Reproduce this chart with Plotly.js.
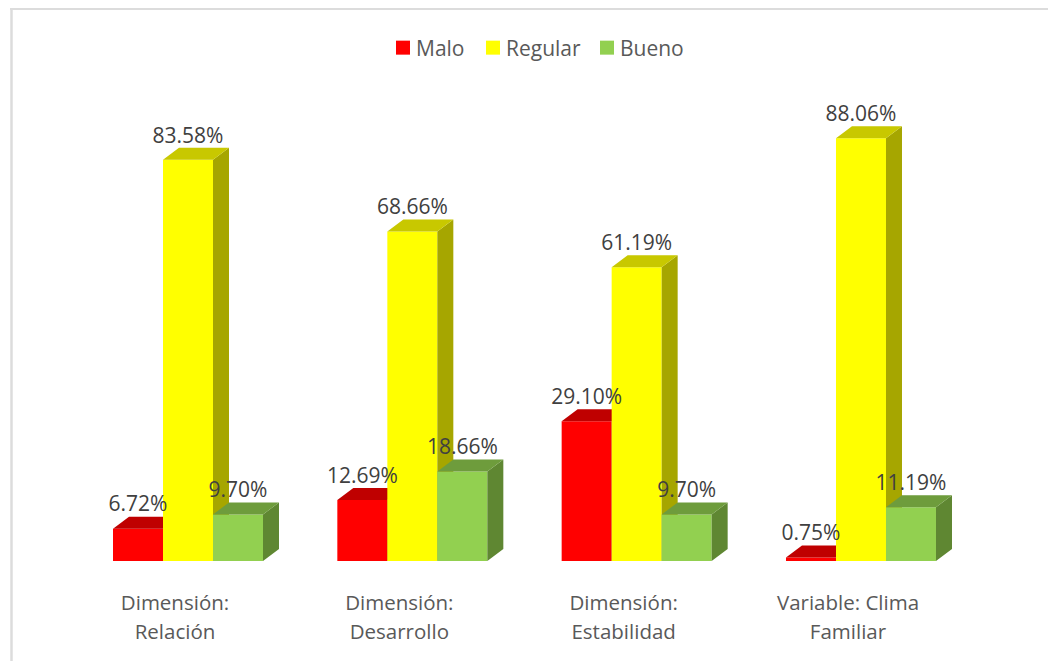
<!DOCTYPE html>
<html>
<head>
<meta charset="utf-8">
<script src="https://cdn.plot.ly/plotly-3.0.1.min.js"></script>
<style>html,body{margin:0;padding:0;background:#fff;}</style>
</head>
<body>
<div id="chart" style="width:1048px;height:661px;"></div>
<script>
const categories = ["Dimensión:<br>Relación", "Dimensión:<br>Desarrollo", "Dimensión:<br>Estabilidad", "Variable: Clima<br>Familiar"];
const malo = [6.72, 12.69, 29.10, 0.75];
const regular = [83.58, 68.66, 61.19, 88.06];
const bueno = [9.70, 18.66, 9.70, 11.19];
const seriesNames = ["Malo", "Regular", "Bueno"];
const frontColors = ["#ff0000", "#ffff00", "#92d050"];
const topColors = ["#bf0000", "#c8c800", "#6e9c3c"];
const sideColors = ["#a00000", "#a6a600", "#5f8732"];

const seriesValues = [malo, regular, bueno];
const groupPx = 224.33, pxPerPct = 4.8;
const plotL = 20, plotR = 1030, plotT = 60, plotB = 561, groupZeroPx = 188;
const barW = 50 / groupPx, depthX = 16 / groupPx, depthY = 12 / pxPerPct;
const labelLift = 22.5 / pxPerPct;
const xRange = [(plotL - groupZeroPx) / groupPx, (plotR - groupZeroPx) / groupPx];
const yRange = [0, (plotB - plotT) / pxPerPct];
const tickShift = -13 / groupPx;

const data = [];
const labelX = [], labelY = [], labelText = [];
seriesValues.forEach((vals, s) => {
  const ax = s === 0 ? "" : String(s + 1);
  const off = (s - 1) * barW;
  const topX = [], topY = [], sideX = [], sideY = [];
  vals.forEach((v, g) => {
    const l = g + off - barW / 2, r = g + off + barW / 2;
    topX.push(l, r, r + depthX, l + depthX, l, null);
    topY.push(v, v, v + depthY, v + depthY, v, null);
    sideX.push(r, r + depthX, r + depthX, r, r, null);
    sideY.push(0, depthY, v + depthY, v, 0, null);
    labelX.push(g + off);
    labelY.push(v + labelLift);
    labelText.push(v.toFixed(2) + "%");
  });
  const face = (x, y, c) => ({
    type: "scatter", mode: "lines", x, y, xaxis: "x" + ax, yaxis: "y" + ax,
    fill: "toself", fillcolor: c, line: {width: 0, color: c},
    hoverinfo: "skip", showlegend: false
  });
  data.push(face(sideX, sideY, sideColors[s]));
  data.push(face(topX, topY, topColors[s]));
  data.push({
    type: "bar", name: seriesNames[s],
    x: vals.map((_, g) => g + off), y: vals,
    width: barW, xaxis: "x" + ax, yaxis: "y" + ax,
    marker: {color: frontColors[s], line: {width: 0}}
  });
});
data.push({
  type: "scatter", mode: "text", x: labelX, y: labelY, text: labelText,
  xaxis: "x3", yaxis: "y3", textposition: "middle center",
  textfont: {family: "Open Sans", size: 21, color: "#404040"},
  cliponaxis: false, showlegend: false, hoverinfo: "skip"
});

const hiddenX = {range: xRange, visible: false, overlaying: "x", fixedrange: true};
const hiddenY = {range: yRange, visible: false, overlaying: "y", fixedrange: true};
const pw = plotR - plotL, ph = plotB - plotT;
const pxX = p => (p - plotL) / pw, pxY = p => (plotB - p) / ph;
const layout = {
  width: 1048, height: 661,
  margin: {l: plotL, r: 1048 - plotR, t: plotT, b: 661 - plotB, pad: 0},
  paper_bgcolor: "#fff", plot_bgcolor: "rgba(0,0,0,0)",
  font: {family: "Open Sans", color: "#595959", size: 20},
  barmode: "overlay", showlegend: true,
  legend: {orientation: "h", x: pxX(539), xanchor: "center", y: pxY(48), yanchor: "middle",
           font: {family: "Open Sans", size: 21, color: "#595959"}, traceorder: "normal"},
  xaxis: {range: xRange, tickmode: "array", tickvals: categories.map((_, i) => i + tickShift),
          ticktext: categories, showgrid: false, zeroline: false, showline: false, ticks: "",
          ticklabelstandoff: 27, tickangle: 0, automargin: false, fixedrange: true,
          tickfont: {family: "Open Sans", size: 20.5, color: "#595959"}},
  yaxis: {range: yRange, visible: false, fixedrange: true},
  xaxis2: hiddenX, yaxis2: hiddenY, xaxis3: hiddenX, yaxis3: hiddenY,
  shapes: [
    {type: "line", xref: "paper", yref: "paper", x0: pxX(10), x1: pxX(1048), y0: pxY(9), y1: pxY(9), line: {color: "#dcdcdc", width: 2}},
    {type: "line", xref: "paper", yref: "paper", x0: pxX(11.5), x1: pxX(11.5), y0: pxY(8), y1: pxY(661), line: {color: "#dcdcdc", width: 2.5}}
  ]
};

// Fine-tune what Plotly has no option for: legend swatch size and spacing, tick label leading.
const swatchCenters = [403, 493, 607], swatchHalf = 7, swatchToText = 13;
const extraLeading = 2.4;
Plotly.newPlot("chart", data, layout, {displayModeBar: false, responsive: false}).then(gd => {
  gd.querySelectorAll(".legend .traces").forEach((item, i) => {
    const path = item.querySelector(".legendpoints path");
    const text = item.querySelector("text.legendtext");
    path.setAttribute("d", `M${swatchHalf},${swatchHalf}H${-swatchHalf}V${-swatchHalf}H${swatchHalf}Z`);
    const r = path.getBoundingClientRect();
    const dx = swatchCenters[i] - (r.left + r.right) / 2;
    const m = /translate\(([-\d.]+),\s*([-\d.]+)\)/.exec(item.getAttribute("transform"));
    item.setAttribute("transform", `translate(${+m[1] + dx},${m[2]})`);
    const tr = text.getBoundingClientRect();
    const tx = +text.getAttribute("x") + (swatchCenters[i] + swatchToText - tr.left);
    text.setAttribute("x", tx);
    const toggle = item.querySelector(".legendtoggle");
    if (toggle) toggle.setAttribute("x", 0);
  });
  const clip = gd.querySelector(".legend .scrollbox");
  if (clip) clip.removeAttribute("clip-path");
  gd.querySelectorAll(".xtick text").forEach(t => {
    const lines = t.querySelectorAll("tspan.line");
    if (lines.length > 1) lines[1].setAttribute("y", +lines[1].getAttribute("y") + extraLeading);
  });
});
</script>
</body>
</html>
